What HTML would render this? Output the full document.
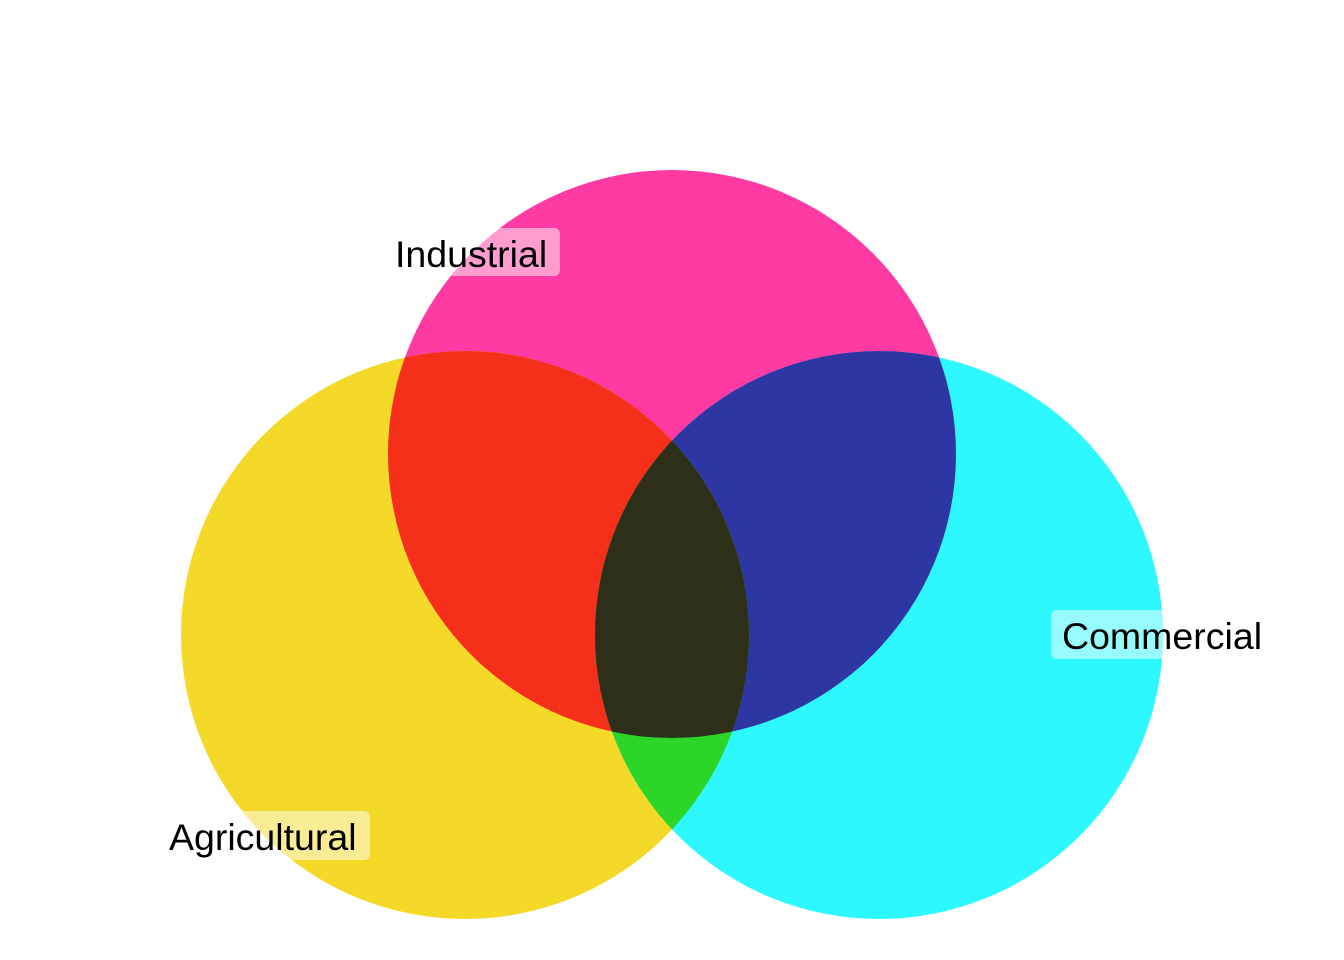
<!DOCTYPE html>
<html><head><meta charset="utf-8"><style>
html,body{margin:0;padding:0;background:#fff;}
svg{display:block;}
text{font-family:"Liberation Sans",Arial,sans-serif;font-size:37.5px;fill:#000;}
</style></head><body>
<svg width="1344" height="960" viewBox="0 0 1344 960" xmlns="http://www.w3.org/2000/svg">
<defs>
<clipPath id="cI"><circle cx="672" cy="454" r="284"/></clipPath>
<clipPath id="cA"><circle cx="465" cy="635" r="284"/></clipPath>
<clipPath id="cC"><circle cx="879" cy="635" r="284"/></clipPath>
</defs>
<rect width="1344" height="960" fill="#fff"/>
<circle cx="672" cy="454" r="284" fill="#FF3AA3"/>
<circle cx="465" cy="635" r="284" fill="#F5D928"/>
<circle cx="879" cy="635" r="284" fill="#2EF8FF"/>
<g clip-path="url(#cI)"><circle cx="465" cy="635" r="284" fill="#F52F19"/></g>
<g clip-path="url(#cI)"><circle cx="879" cy="635" r="284" fill="#2E36A3"/></g>
<g clip-path="url(#cA)"><circle cx="879" cy="635" r="284" fill="#2BD629"/></g>
<g clip-path="url(#cA)"><g clip-path="url(#cI)"><circle cx="879" cy="635" r="284" fill="#2E2F19"/></g></g>
<rect x="384" y="228" width="176" height="48" rx="6" fill="#fff" fill-opacity="0.5"/>
<text x="395" y="267">Industrial</text>
<rect x="1051" y="610" width="224" height="49" rx="6" fill="#fff" fill-opacity="0.5"/>
<text x="1062" y="649">Commercial</text>
<rect x="158" y="811" width="212" height="49" rx="6" fill="#fff" fill-opacity="0.5"/>
<text x="169" y="850">Agricultural</text>
</svg>
</body></html>
